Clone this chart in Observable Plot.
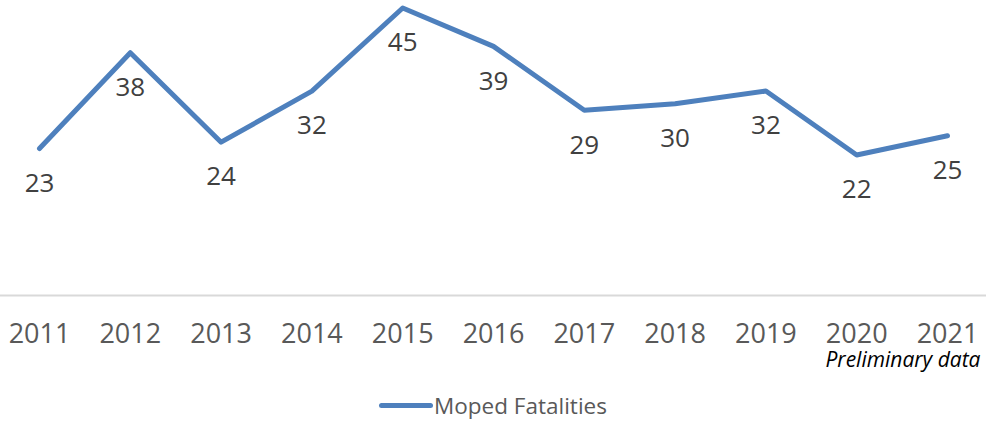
<!DOCTYPE html>
<html>
<head>
<meta charset="utf-8">
<script src="https://cdn.jsdelivr.net/npm/d3@7"></script>
<script src="https://cdn.jsdelivr.net/npm/@observablehq/plot@0.6"></script>
<style>
  html, body { margin: 0; padding: 0; background: #fff; }
  body { width: 986px; height: 424px; overflow: hidden; font-family: "Open Sans", sans-serif; }
  #legend { height: 39px; display: flex; justify-content: center; align-items: center; gap: 1px; font-size: 22.5px; color: #595959; padding-top: 2px; box-sizing: border-box; }
  #legend .swatch { width: 54px; height: 5px; border-radius: 3px; background: #4e80bd; }
</style>
</head>
<body>
<div id="chart"></div>
<div id="legend"><span class="swatch"></span><span id="legend-label"></span></div>
<script>
const years = [2011, 2012, 2013, 2014, 2015, 2016, 2017, 2018, 2019, 2020, 2021];
const fatalities = [23, 38, 24, 32, 45, 39, 29, 30, 32, 22, 25];
const seriesName = "Moped Fatalities";
const note = "Preliminary data";

const data = years.map((year, i) => ({year, value: fatalities[i]}));
const pad = 39 / 90.8;

const chart = Plot.plot({
  width: 986,
  height: 385,
  marginTop: 7.5,
  marginBottom: 90,
  marginLeft: 0,
  marginRight: 0,
  style: {fontFamily: "Open Sans, sans-serif", background: "#fff"},
  x: {domain: [years[0] - pad, years[years.length - 1] + pad]},
  y: {domain: [0, 45], axis: null},
  marks: [
    Plot.ruleY([0], {stroke: "#d9d9d9", strokeWidth: 2}),
    Plot.axisX({ticks: years, tickFormat: d => String(d), tickSize: 0, tickPadding: 28.5, fontSize: 27, fill: "#595959", label: null}),
    Plot.lineY(data, {x: "year", y: "value", stroke: "#4e80bd", strokeWidth: 5, strokeLinecap: "round", strokeLinejoin: "round"}),
    Plot.text(data, {x: "year", y: "value", text: d => String(d.value), dy: 35, fontSize: 26, fill: "#404040"}),
    Plot.text([note], {frameAnchor: "bottom-right", text: d => d, dy: 65, dx: -6, fontSize: 21, fontStyle: "italic", fill: "#000", lineAnchor: "middle"})
  ]
});
document.getElementById("chart").appendChild(chart);
document.getElementById("legend-label").textContent = seriesName;
</script>
</body>
</html>
